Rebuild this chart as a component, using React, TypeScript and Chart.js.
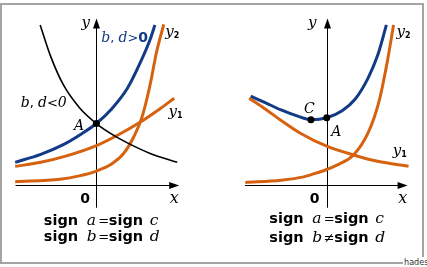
import React, { useEffect, useRef } from "react";
import { Chart, registerables } from "chart.js";
Chart.register(...registerables);

// ---------- data (x/y in plot units, origin at the axes' crossing) ----------
// Left panel: sign b = sign d
const leftBlueX = [-4.22, -2.89, -1.72, -0.72, 0, 0.79, 1.62, 2.29, 2.79, 3.04];
const leftBlueY = [1.19, 1.6, 2.1, 2.69, 3.19, 3.94, 5.02, 6.35, 7.52, 8.27];
const leftBlackX = [-2.92, -2.39, -1.72, -0.89, 0, 0.95, 1.79, 2.79, 4.2];
const leftBlackY = [8.27, 6.69, 5.19, 4.02, 3.19, 2.55, 2.1, 1.65, 1.19];
const leftY1X = [-4.22, -2.89, -1.55, 0, 1.12, 2.29, 3.29, 4.04];
const leftY1Y = [0.98, 1.19, 1.52, 2.05, 2.6, 3.27, 3.94, 4.49];
const leftY2X = [-4.22, -1.89, -0.89, 0, 0.79, 1.45, 1.95, 2.37, 2.79, 3.12, 3.5];
const leftY2Y = [0.19, 0.32, 0.49, 0.74, 1.1, 1.69, 2.52, 3.52, 5.19, 6.85, 8.3];
const leftDotX = [0];
const leftDotY = [3.19];

// Right panel: sign b ≠ sign d
const rightBlueX = [-3.95, -3.2, -2.37, -1.54, -0.82, 0, 0.8, 1.47, 2.14, 2.64, 3.1];
const rightBlueY = [4.6, 4.27, 3.89, 3.58, 3.39, 3.49, 3.85, 4.44, 5.52, 6.69, 8.27];
const rightY1X = [-4.03, -3.2, -2.37, -1.37, 0, 1.39, 2.64, 4.25];
const rightY1Y = [4.49, 3.94, 3.35, 2.69, 2.02, 1.57, 1.24, 0.99];
const rightY2X = [-4.23, -2.37, -1.2, -0.37, 0, 0.64, 1.39, 2.14, 2.72, 3.14, 3.47];
const rightY2Y = [0.15, 0.27, 0.44, 0.69, 0.82, 1.1, 1.57, 2.69, 4.35, 6.35, 8.27];
const rightDotX = [-0.82, 0];
const rightDotY = [3.39, 3.49];

// ---------- styles ----------
const BLUE = "#123a86";
const ORANGE = "#d6620f";
const BLACK = "#000000";
const SERIF_I = (s: number) => `italic ${s}px "DejaVu Serif"`;
const SANS_B = (s: number) => `bold ${s}px "DejaVu Sans"`;
const SANS = (s: number) => `${s}px "DejaVu Sans"`;

const pts = (xs: number[], ys: number[]) => xs.map((x, i) => ({ x, y: ys[i] }));

type Part = { t: string; f: string; c?: string; dx?: number; dy?: number };
type Label = { x: number; y: number; align?: CanvasTextAlign; parts: Part[] };

const axesPlugin = {
  id: "axes",
  beforeDatasetsDraw(chart: any, _a: any, opts: any) {
    const { ctx, scales } = chart;
    const xs = scales.x, ys = scales.y;
    const x0 = Math.round(xs.getPixelForValue(0)) + 0.5;
    const y0 = Math.round(ys.getPixelForValue(0)) + 0.5;
    const xL = xs.getPixelForValue(opts.xFrom), xR = xs.getPixelForValue(opts.xTo);
    const yB = ys.getPixelForValue(opts.yFrom), yT = ys.getPixelForValue(opts.yTo);
    ctx.save();
    ctx.strokeStyle = BLACK;
    ctx.fillStyle = BLACK;
    ctx.lineWidth = 1;
    ctx.beginPath();
    ctx.moveTo(xL, y0); ctx.lineTo(xR - 6, y0);
    ctx.moveTo(x0, yB); ctx.lineTo(x0, yT + 6);
    ctx.stroke();
    ctx.beginPath();
    ctx.moveTo(xR, y0); ctx.lineTo(xR - 10, y0 - 3.5); ctx.lineTo(xR - 10, y0 + 3.5); ctx.closePath();
    ctx.moveTo(x0, yT); ctx.lineTo(x0 - 3.5, yT + 10); ctx.lineTo(x0 + 3.5, yT + 10); ctx.closePath();
    ctx.fill();
    ctx.restore();
  },
};

const textPlugin = {
  id: "texts",
  afterDatasetsDraw(chart: any, _a: any, opts: any) {
    const { ctx, scales } = chart;
    ctx.save();
    ctx.textBaseline = "alphabetic";
    (opts.labels as Label[]).forEach((lb) => {
      const px = scales.x.getPixelForValue(lb.x);
      const py = scales.y.getPixelForValue(lb.y);
      if (lb.align === "center" && lb.parts.length === 1) {
        const p = lb.parts[0];
        ctx.font = p.f; ctx.fillStyle = p.c || BLACK; ctx.textAlign = "center";
        ctx.fillText(p.t, px, py + (p.dy || 0));
        return;
      }
      ctx.textAlign = "left";
      let cx = px;
      lb.parts.forEach((p) => {
        ctx.font = p.f; ctx.fillStyle = p.c || BLACK;
        const x = p.dx !== undefined ? px + p.dx : cx;
        ctx.fillText(p.t, x, py + (p.dy || 0));
        cx = x + ctx.measureText(p.t).width;
      });
    });
    ctx.restore();
  },
};

const signLine = (v1: string, op: string, v2: string): Part[] => [
  { t: "sign", f: SANS_B(14.5), dx: 0 },
  { t: v1, f: SERIF_I(15.5), dx: 43 },
  { t: op, f: SANS(13), dx: 54.5 },
  { t: "sign", f: SANS_B(14.5), dx: 65 },
  { t: v2, f: SERIF_I(15.5), dx: 106 },
];

const yLab = (sub: string): Part[] => [
  { t: "y", f: SERIF_I(15) },
  { t: sub, f: SANS_B(8), dy: 2 },
];

const leftLabels: Label[] = [
  { x: -0.55, y: 8.15, align: "center", parts: [{ t: "y", f: SERIF_I(15) }] },
  {
    x: 0.25, y: 7.4,
    parts: [
      { t: "b", f: SERIF_I(14), c: BLUE },
      { t: ", ", f: SANS(13), c: BLUE },
      { t: "d", f: SERIF_I(14), c: BLUE },
      { t: ">", f: SANS(13), c: BLUE },
      { t: "0", f: SANS_B(14), c: BLUE },
    ],
  },
  {
    x: -3.93, y: 4.05,
    parts: [
      { t: "b", f: SERIF_I(14) },
      { t: ", ", f: SANS(13) },
      { t: "d", f: SERIF_I(14) },
      { t: "<", f: SANS(13) },
      { t: "0", f: SERIF_I(14) },
    ],
  },
  { x: 3.58, y: 7.7, parts: yLab("2") },
  { x: 3.75, y: 3.58, parts: yLab("1") },
  { x: -0.9, y: 2.83, align: "center", parts: [{ t: "A", f: SERIF_I(14) }] },
  { x: -0.58, y: -0.9, align: "center", parts: [{ t: "0", f: SANS_B(14) }] },
  { x: 4.05, y: -0.9, align: "center", parts: [{ t: "x", f: SERIF_I(16) }] },
  { x: -2.73, y: -2.04, parts: signLine("a", "=", "c") },
  { x: -2.73, y: -2.89, parts: signLine("b", "=", "d") },
];

const rightLabels: Label[] = [
  { x: -0.75, y: 8.15, align: "center", parts: [{ t: "y", f: SERIF_I(15) }] },
  { x: 3.63, y: 7.7, parts: yLab("2") },
  { x: 3.43, y: 1.55, parts: yLab("1") },
  { x: -0.9, y: 3.73, align: "center", parts: [{ t: "C", f: SERIF_I(14) }] },
  { x: 0.5, y: 2.53, align: "center", parts: [{ t: "A", f: SERIF_I(14) }] },
  { x: -0.63, y: -0.9, align: "center", parts: [{ t: "0", f: SANS_B(14) }] },
  { x: 3.95, y: -0.9, align: "center", parts: [{ t: "x", f: SERIF_I(16) }] },
  { x: -2.98, y: -1.95, parts: signLine("a", "=", "c") },
  { x: -2.98, y: -2.9, parts: signLine("b", "≠", "d") },
];

const curve = (data: any[], color: string, width: number) => ({
  data,
  showLine: true,
  borderColor: color,
  borderWidth: width,
  pointRadius: 0,
  cubicInterpolationMode: "monotone",
  fill: false,
});

const dots = (data: any[]) => ({
  data,
  showLine: false,
  pointRadius: 3.5,
  pointBackgroundColor: BLACK,
  pointBorderColor: BLACK,
  pointBorderWidth: 0,
});

type PanelProps = {
  left: number; width: number; xMin: number; xMax: number;
  datasets: any[]; labels: Label[]; axes: any;
};

function Panel({ left, width, xMin, xMax, datasets, labels, axes }: PanelProps) {
  const ref = useRef<HTMLCanvasElement | null>(null);
  useEffect(() => {
    if (!ref.current) return;
    const chart = new Chart(ref.current, {
      type: "scatter",
      data: { datasets },
      options: {
        animation: false,
        responsive: false,
        maintainAspectRatio: false,
        devicePixelRatio: 1,
        layout: { padding: 0 },
        events: [],
        scales: {
          x: { type: "linear", min: xMin, max: xMax, display: false },
          y: { type: "linear", min: -4, max: 9.35, display: false },
        },
        plugins: {
          legend: { display: false },
          tooltip: { enabled: false },
          axes,
          texts: { labels },
        } as any,
      },
      plugins: [axesPlugin, textPlugin],
    } as any);
    return () => chart.destroy();
  }, []);
  return (
    <canvas
      ref={ref}
      width={width}
      height={267}
      style={{ position: "absolute", left, top: 0, width, height: 267 }}
    />
  );
}

export default function App() {
  const leftSets = [
    dots(pts(leftDotX, leftDotY)),
    curve(pts(leftBlackX, leftBlackY), BLACK, 1.6),
    curve(pts(leftBlueX, leftBlueY), BLUE, 3),
    curve(pts(leftY1X, leftY1Y), ORANGE, 3),
    curve(pts(leftY2X, leftY2Y), ORANGE, 3),
  ];
  const rightSets = [
    dots(pts(rightDotX, rightDotY)),
    curve(pts(rightBlueX, rightBlueY), BLUE, 3),
    curve(pts(rightY1X, rightY1Y), ORANGE, 3),
    curve(pts(rightY2X, rightY2Y), ORANGE, 3),
  ];
  return (
    <div style={{ position: "fixed", left: 0, top: 0, width: 427, height: 267, background: "#fff", overflow: "hidden" }}>
      <div style={{ position: "absolute", left: 0, top: 3, width: 420, height: 257, border: "2px solid #a3a3a3" }} />
      <Panel
        left={0} width={213} xMin={-4.8} xMax={5.85}
        datasets={leftSets} labels={leftLabels}
        axes={{ xFrom: -4.2, xTo: 4.3, yFrom: -1.15, yTo: 8.6 }}
      />
      <Panel
        left={213} width={214} xMin={-5.7} xMax={5.0}
        datasets={rightSets} labels={rightLabels}
        axes={{ xFrom: -4.25, xTo: 4.2, yFrom: -1.15, yTo: 8.6 }}
      />
      <div style={{
        position: "absolute", left: 403, top: 257, width: 24, height: 10, background: "#fff",
        font: '9px "Liberation Sans Narrow", "DejaVu Sans Condensed", sans-serif', color: "#333",
        lineHeight: "10px", paddingLeft: 1,
      }}>hades</div>
    </div>
  );
}
